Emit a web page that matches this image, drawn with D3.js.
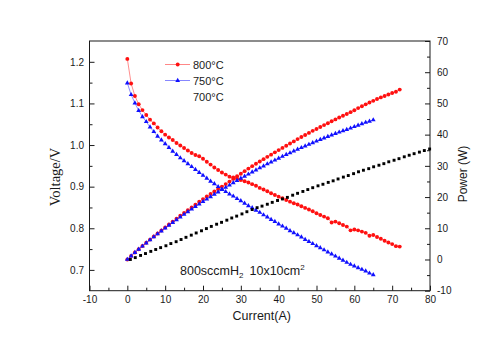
<!DOCTYPE html>
<html>
<head>
<meta charset="utf-8">
<script src="https://cdn.jsdelivr.net/npm/d3@7"></script>
<style>
  body { margin: 0; background: #fff; }
</style>
</head>
<body>
<div class="chart"></div>
<script>
// 800°C run, current in A
const current800 = [0,1,2,3,4,5,6,7,8,9,10,11,12,13,14,15,16,17,18,19,20,21,22,23,24,25,26,27,28,29,
  30,31,32,33,34,35,36,37,38,39,40,41,42,43,44,45,46,47,48,49,50,51,52,53,54,55,56,57,58,59,
  60,61,62,63,64,65,66,67,68,69,70,71,72];
const voltage800 = [1.207,1.148,1.118,1.098,1.084,1.072,1.061,1.052,1.042,1.033,
  1.025,1.018,1.012,1.005,0.999,0.993,0.987,0.981,0.976,0.973,
  0.967,0.960,0.953,0.946,0.940,0.934,0.929,0.924,0.922,0.919,
  0.916,0.913,0.910,0.906,0.902,0.897,0.893,0.889,0.884,0.880,
  0.876,0.872,0.868,0.864,0.860,0.857,0.853,0.849,0.845,0.841,
  0.836,0.832,0.828,0.824,0.814,0.816,0.812,0.808,0.804,0.795,
  0.797,0.795,0.792,0.789,0.782,0.784,0.779,0.775,0.770,0.766,
  0.762,0.757,0.756];
const power800 = [0,1.15,2.24,3.29,4.34,5.36,6.37,7.36,8.34,9.30,
  10.25,11.20,12.14,13.07,13.99,14.90,15.79,16.68,17.57,18.49,
  19.34,20.16,20.97,21.76,22.56,23.35,24.15,24.95,25.82,26.65,
  27.48,28.30,29.12,29.90,30.67,31.40,32.15,32.89,33.59,34.32,
  35.04,35.75,36.46,37.15,37.84,38.57,39.24,39.90,40.56,41.21,
  41.80,42.43,43.06,43.67,44.28,44.88,45.47,46.06,46.63,47.20,
  47.82,48.50,49.10,49.71,50.30,50.83,51.41,51.93,52.36,52.85,
  53.34,53.75,54.43];

// 750°C run
const current750 = [0,1,2,3,4,5,6,7,8,9,10,11,12,13,14,15,16,17,18,19,20,21,22,23,24,25,26,27,28,29,
  30,31,32,33,34,35,36,37,38,39,40,41,42,43,44,45,46,47,48,49,50,51,52,53,54,55,56,57,58,59,
  60,61,62,63,64,65];
const voltage750 = [1.149,1.121,1.101,1.083,1.068,1.056,1.043,1.032,1.021,1.012,
  1.003,0.994,0.985,0.977,0.969,0.962,0.955,0.948,0.941,0.934,
  0.927,0.920,0.913,0.907,0.900,0.894,0.888,0.882,0.877,0.871,
  0.866,0.860,0.854,0.849,0.843,0.838,0.832,0.827,0.821,0.816,
  0.810,0.805,0.800,0.794,0.789,0.784,0.779,0.773,0.768,0.763,
  0.758,0.753,0.748,0.743,0.738,0.733,0.728,0.723,0.718,0.713,
  0.709,0.705,0.701,0.697,0.692,0.688];
const power750 = [0,1.12,2.20,3.25,4.27,5.28,6.26,7.22,8.17,9.11,
  10.03,10.93,11.82,12.70,13.57,14.43,15.28,16.12,16.94,17.75,
  18.54,19.32,20.09,20.86,21.60,22.35,23.09,23.81,24.56,25.26,
  25.98,26.66,27.33,28.02,28.66,29.33,29.95,30.60,31.20,31.82,
  32.40,33.01,33.60,34.14,34.72,35.28,35.83,36.33,36.86,37.39,
  37.90,38.40,38.90,39.38,39.85,40.32,40.77,41.21,41.64,42.07,
  42.54,43.01,43.46,43.91,44.29,44.72];

// 700°C run, power only
const current700 = [0.8,2.1,3.5,4.8,6.2,7.5,8.8,10.2,11.5,12.9,14.2,15.5,16.9,18.2,19.6,
  20.9,22.2,23.6,24.9,26.3,27.6,28.9,30.3,31.6,33.0,34.3,35.6,37.0,38.3,39.7,
  41.0,42.3,43.7,45.0,46.4,47.7,49.0,50.4,51.7,53.1,54.4,55.7,57.1,58.4,59.8,
  61.1,62.4,63.8,65.1,66.5,67.8,69.1,70.5,71.8,73.2,74.5,75.8,77.2,78.5,79.9];
const power700 = [0,0.6,1.3,1.9,2.6,3.2,3.8,4.4,5.1,5.7,6.4,7.1,7.8,8.5,9.2,
  9.9,10.6,11.3,11.9,12.6,13.3,13.9,14.6,15.3,16.0,16.6,17.1,17.7,18.3,18.9,
  19.4,19.9,20.6,21.2,21.8,22.4,23.0,23.6,24.1,24.7,25.2,25.8,26.4,26.9,27.5,
  28.1,28.6,29.1,29.7,30.2,30.7,31.3,31.8,32.3,32.9,33.4,33.9,34.4,34.9,35.4];

const xTicks = [-10,0,10,20,30,40,50,60,70,80];
const voltTicks = [0.7,0.8,0.9,1.0,1.1,1.2];
const powerTicks = [-10,0,10,20,30,40,50,60,70];

const width = 500, height = 349;
const plot = {left: 89.5, right: 430, top: 41, bottom: 290.7};

const x = d3.scaleLinear().domain([-10, 80]).range([plot.left, plot.right]);
const yV = d3.scaleLinear().domain([0.65, 1.25]).range([plot.bottom, plot.top]);
const yP = d3.scaleLinear().domain([-10, 70]).range([plot.bottom, plot.top]);

const svg = d3.select(".chart")
  .append("svg")
  .attr("width", width)
  .attr("height", height)
  .attr("font-family", "'Liberation Sans', Arial, sans-serif");

const ink = "#1a1a1a";

// frame
svg.append("rect")
  .attr("x", plot.left).attr("y", plot.top)
  .attr("width", plot.right - plot.left)
  .attr("height", plot.bottom - plot.top)
  .attr("fill", "none")
  .attr("stroke", ink)
  .attr("stroke-width", 1);

function styleAxis(g) {
  g.select(".domain").remove();
  g.selectAll("line").attr("stroke", ink);
  g.selectAll("text").attr("fill", ink).attr("font-size", 10);
}

// bottom axis, ticks point inward
svg.append("g")
  .attr("transform", `translate(0,${plot.bottom})`)
  .call(d3.axisBottom(x).tickValues(xTicks).tickSize(-5).tickPadding(5.5).tickFormat(d => String(d)))
  .call(styleAxis);
svg.append("g")
  .attr("transform", `translate(0,${plot.bottom})`)
  .call(d3.axisBottom(x).tickValues(d3.range(-5, 80, 10)).tickSize(-3).tickFormat(""))
  .call(styleAxis);

// left voltage axis
svg.append("g")
  .attr("transform", `translate(${plot.left},0)`)
  .call(d3.axisLeft(yV).tickValues(voltTicks).tickSize(-5).tickPadding(5.5).tickFormat(d3.format(".1f")))
  .call(styleAxis);
svg.append("g")
  .attr("transform", `translate(${plot.left},0)`)
  .call(d3.axisLeft(yV).tickValues([0.75,0.85,0.95,1.05,1.15]).tickSize(-3).tickFormat(""))
  .call(styleAxis);

// right power axis
svg.append("g")
  .attr("transform", `translate(${plot.right},0)`)
  .call(d3.axisRight(yP).tickValues(powerTicks).tickSize(-5).tickPadding(7).tickFormat(d => String(d)))
  .call(styleAxis);
svg.append("g")
  .attr("transform", `translate(${plot.right},0)`)
  .call(d3.axisRight(yP).tickValues(d3.range(-5, 70, 10)).tickSize(-3).tickFormat(""))
  .call(styleAxis);

// axis titles
svg.append("text")
  .attr("x", (plot.left + plot.right) / 2 + 2)
  .attr("y", 320)
  .attr("text-anchor", "middle")
  .attr("font-size", 12.5)
  .attr("fill", ink)
  .text("Current(A)");

svg.append("text")
  .attr("transform", "translate(60,177) rotate(-90)")
  .attr("text-anchor", "middle")
  .attr("font-family", "'Liberation Serif', 'Times New Roman', serif")
  .attr("font-size", 14.5)
  .attr("fill", ink)
  .text("Voltage/V");

svg.append("text")
  .attr("transform", "translate(466.5,174) rotate(-90)")
  .attr("text-anchor", "middle")
  .attr("font-size", 12)
  .attr("fill", ink)
  .text("Power (W)");

// series
const circle = d3.symbol().type(d3.symbolCircle).size(12);
const triangle = d3.symbol().type(d3.symbolTriangle).size(10);
const square = d3.symbol().type(d3.symbolSquare).size(8.5);

function drawSeries(xs, ys, yScale, color, shape, withLine) {
  const pts = xs.map((c, i) => [x(c), yScale(ys[i])]);
  const g = svg.append("g");
  if (withLine) {
    g.append("path")
      .attr("d", d3.line()(pts))
      .attr("fill", "none")
      .attr("stroke", color)
      .attr("stroke-opacity", 0.6)
      .attr("stroke-width", 0.8);
  }
  g.selectAll("path.pt")
    .data(pts)
    .join("path")
    .attr("class", "pt")
    .attr("transform", d => `translate(${d[0]},${d[1]})`)
    .attr("d", shape)
    .attr("fill", color);
}

drawSeries(current800, voltage800, yV, "#ff1010", circle, true);
drawSeries(current800, power800, yP, "#ff1010", circle, true);
drawSeries(current750, voltage750, yV, "#1010ff", triangle, true);
drawSeries(current750, power750, yP, "#1010ff", triangle, true);
drawSeries(current700, power700, yP, "#000", square, false);

// legend
const legend = svg.append("g").attr("font-size", 11).attr("fill", ink);
const legendItems = [
  {label: "800°C", color: "#ff1010", shape: circle},
  {label: "750°C", color: "#1010ff", shape: triangle},
  {label: "700°C", color: null, shape: null}
];
legendItems.forEach((d, i) => {
  const cy = 64.5 + i * 16;
  if (d.color) {
    legend.append("line")
      .attr("x1", 165).attr("x2", 190)
      .attr("y1", cy).attr("y2", cy)
      .attr("stroke", d.color)
      .attr("stroke-opacity", 0.5)
      .attr("stroke-width", 1);
    legend.append("path")
      .attr("transform", `translate(177.7,${cy})`)
      .attr("d", d.shape)
      .attr("fill", d.color);
  }
  legend.append("text")
    .attr("x", 193)
    .attr("y", cy + 4)
    .text(d.label);
});

// test conditions
const note = svg.append("g").attr("font-size", 12.5).attr("fill", ink);
const t1 = note.append("text").attr("x", 180).attr("y", 275);
t1.append("tspan").text("800sccmH");
t1.append("tspan").attr("dy", 2.5).attr("font-size", 8).text("2");
const t2 = note.append("text").attr("x", 249.5).attr("y", 275);
t2.append("tspan").text("10x10cm");
t2.append("tspan").attr("dy", -5).attr("font-size", 8).text("2");
</script>
</body>
</html>
